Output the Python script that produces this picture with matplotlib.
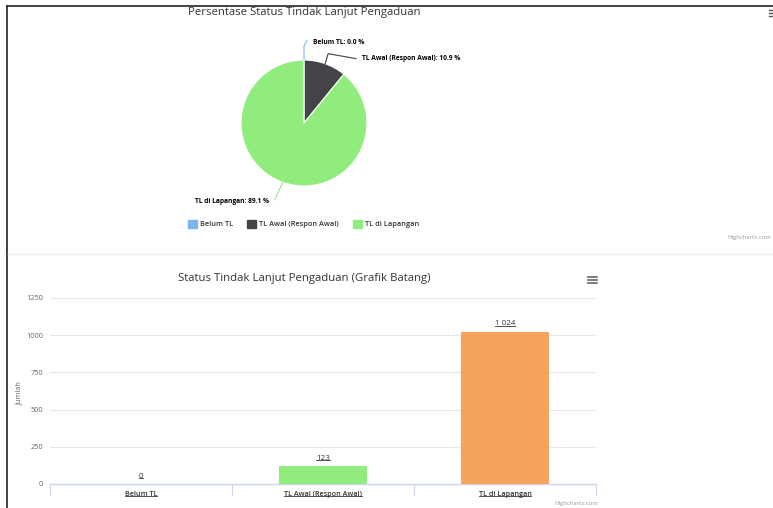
import matplotlib
matplotlib.use("Agg")
import matplotlib.pyplot as plt
import numpy as np
from matplotlib.lines import Line2D
from matplotlib.patches import Rectangle

plt.rcParams['font.family'] = ['Open Sans', 'DejaVu Sans']

# ---------------- data ----------------
pie_title = "Persentase Status Tindak Lanjut Pengaduan"
bar_title = "Status Tindak Lanjut Pengaduan (Grafik Batang)"
categories = ["Belum TL", "TL Awal (Respon Awal)", "TL di Lapangan"]
pie_percent = [0.0, 10.9, 89.1]
bar_counts = [0, 123, 1024]
bar_labels = ["0", "123", "1 024"]
y_ticks = [0, 250, 500, 750, 1000, 1250]
pie_colors = ["#7cb5ec", "#434348", "#90ed7d"]
bar_colors = ["#7cb5ec", "#90ed7d", "#f7a35c"]

W, H = 773, 508
fig = plt.figure(figsize=(W / 100, H / 100), dpi=100)
fig.patch.set_facecolor("white")

def fx(px):
    return px / W

def fy(py):
    return 1 - py / H

def pix_axes(left, top, right, bottom):
    return fig.add_axes([fx(left), fy(bottom), (right - left) / W, (bottom - top) / H])

# page frame lines
fig.add_artist(Line2D([fx(7), fx(7)], [fy(6), fy(508)], color="#222222", lw=1.2))
fig.add_artist(Line2D([fx(7), fx(773)], [fy(6), fy(6)], color="#222222", lw=1.2))
fig.add_artist(Line2D([fx(8), fx(773)], [fy(254), fy(254)], color="#eeeeee", lw=1.0))

# ---------------- pie chart ----------------
cx, cy, R = 304, 123, 63
half = 100
pax = pix_axes(cx - half, cy - half, cx + half, cy + half)
scale = 1.6
unit = half / scale  # pixels per data unit
r_data = R / unit
wedges, _ = pax.pie(pie_percent, colors=pie_colors, startangle=90, counterclock=False,
                    radius=r_data, wedgeprops=dict(linewidth=0.8, edgecolor="white"))
pax.set_xlim(-scale, scale)
pax.set_ylim(-scale, scale)
pax.set_aspect("equal")
pax.axis("off")

fig.text(fx(304), fy(13), pie_title, ha="center", va="center", fontsize=8.2, color="#333333")

def d(dxp, dyp):
    return dxp / unit, -dyp / unit

pie_label_cfg = [
    # (connector pixel offsets from edge point, text pixel offset, ha)
    ([(0, 0), (0, -14), (3, -20)], (9, -17), "left"),
    ([(0, 0), (3, -10), (31, -5)], (37, -5), "left"),
    ([(0, 0), (-8, 17)], (-14, 19), "right"),
]
cum = 0.0
for i, (pct, cat) in enumerate(zip(pie_percent, categories)):
    mid = 90 - 3.6 * (cum + pct / 2)
    cum += pct
    ex = r_data * np.cos(np.radians(mid))
    ey = r_data * np.sin(np.radians(mid))
    pts, toff, ha = pie_label_cfg[i]
    xs = [ex + d(*p)[0] for p in pts]
    ys = [ey + d(*p)[1] for p in pts]
    pax.plot(xs, ys, color=pie_colors[i], lw=0.8, clip_on=False, solid_capstyle="round")
    tx, ty = d(*toff)
    pax.text(ex + tx, ey + ty, f"{cat}: {pct:.1f} %", ha=ha, va="center",
             fontsize=4.8, fontweight="bold", color="#000000", clip_on=False)

# legend
leg_x = [188, 247, 353]
for i, cat in enumerate(categories):
    fig.add_artist(Rectangle((fx(leg_x[i]), fy(228)), 9 / W, 8 / H, color=pie_colors[i],
                             transform=fig.transFigure))
    fig.text(fx(leg_x[i] + 12), fy(224), cat, ha="left", va="center", fontsize=5.3,
             fontweight="semibold", color="#333333")

fig.text(fx(771), fy(238), "Highcharts.com", ha="right", va="center", fontsize=4.3, color="#999999")
# top-right menu (clipped)
for k in range(3):
    fig.add_artist(Line2D([fx(769), fx(773)], [fy(10 + 3 * k), fy(10 + 3 * k)], color="#555555", lw=1.0))

# ---------------- bar chart ----------------
L, T, Rr, B = 50, 298, 596, 484
bax = pix_axes(L, T, Rr, B)
x = np.arange(len(categories))
bax.bar(x, bar_counts, width=0.48, color=bar_colors, zorder=3)
bax.set_xlim(-0.5, len(categories) - 0.5)
bax.set_ylim(0, 1250)
bax.set_yticks(y_ticks)
bax.set_yticklabels([str(v) for v in y_ticks], fontsize=5.3, color="#666666")
bax.grid(axis="y", color="#e6e6e6", lw=0.8, zorder=0)
for s in ["top", "right", "left"]:
    bax.spines[s].set_visible(False)
bax.spines["bottom"].set_color("#ccd6eb")
bax.spines["bottom"].set_linewidth(1.0)
bax.tick_params(axis="y", length=0, pad=5)
bax.set_xticks(x)
bax.set_xticklabels(categories, fontsize=5.2, color="#333333", fontweight="semibold")
bax.tick_params(axis="x", length=0, pad=5)
bax.set_xticks(np.arange(-0.5, len(categories)), minor=True)
bax.tick_params(axis="x", which="minor", length=8, color="#ccd6eb", width=0.8)
fig.text(fx(19), fy(393), "Jumlah", rotation=90, ha="center", va="center", fontsize=5.3, color="#666666")

data_texts = []
for xi, v, lab in zip(x, bar_counts, bar_labels):
    t = bax.annotate(lab, (xi, v), xytext=(0, 3), textcoords="offset points", ha="center",
                     va="bottom", fontsize=5.8, color="#333333", zorder=4)
    data_texts.append(t)

fig.text(fx(304), fy(278), bar_title, ha="center", va="center", fontsize=8.2, color="#333333")
for k in range(3):
    fig.add_artist(Line2D([fx(588), fx(597)], [fy(277 + 3 * k), fy(277 + 3 * k)], color="#555555", lw=1.1))
fig.text(fx(598), fy(503), "Highcharts.com", ha="right", va="center", fontsize=4.3, color="#999999")

# underline data labels and category labels
fig.canvas.draw()
rend = fig.canvas.get_renderer()
for t in data_texts + list(bax.get_xticklabels()):
    bb = t.get_window_extent(rend)
    yline = bb.y0 + 1.5
    fig.add_artist(Line2D([bb.x0 / W, bb.x1 / W], [yline / H, yline / H], color="#333333", lw=0.6))

fig.savefig("out.png", dpi=100, facecolor="white")
